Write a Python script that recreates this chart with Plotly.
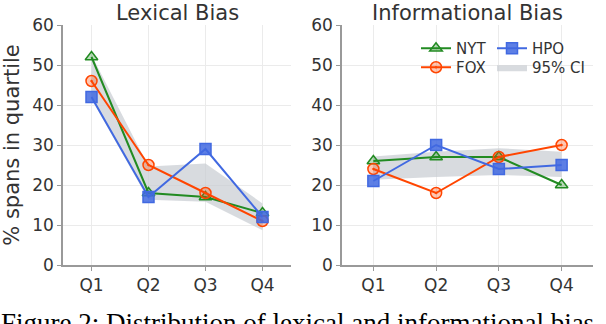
import plotly.graph_objects as go
from plotly.subplots import make_subplots

quartiles = ["Q1", "Q2", "Q3", "Q4"]

lex_nyt = [52, 18, 17, 13]
lex_fox = [46, 25, 18, 11]
lex_hpo = [42, 17, 29, 12]
lex_ci_low = [41.5, 16.3, 15.8, 8.7]
lex_ci_high = [52.5, 24.6, 25.4, 15.4]

inf_nyt = [26, 27, 27, 20]
inf_fox = [24, 18, 27, 30]
inf_hpo = [21, 30, 24, 25]
inf_ci_low = [21.3, 22.0, 22.5, 22.0]
inf_ci_high = [27.1, 28.3, 29.2, 28.3]

GREEN = "#228B22"
ORANGE = "#FF4500"
BLUE = "#4169E1"
BAND = "rgba(200,204,210,0.7)"
TXT = "#333333"

fig = make_subplots(rows=1, cols=2)

panels = [
    (1, lex_nyt, lex_fox, lex_hpo, lex_ci_low, lex_ci_high),
    (2, inf_nyt, inf_fox, inf_hpo, inf_ci_low, inf_ci_high),
]
for col, nyt, fox, hpo, lo, hi in panels:
    show = col == 2
    # band as a closed polygon: upper edge then lower edge reversed
    fig.add_trace(go.Scatter(x=quartiles + quartiles[::-1], y=hi + lo[::-1], mode="lines",
                             line=dict(width=0), fill="toself", fillcolor=BAND,
                             name="95% CI", hoverinfo="skip",
                             showlegend=show, legend="legend4"), row=1, col=col)
    fig.add_trace(go.Scatter(x=quartiles, y=nyt, mode="lines+markers", name="NYT",
                             line=dict(color=GREEN, width=2),
                             marker=dict(symbol="triangle-up", size=11,
                                         color="rgba(34,139,34,0.3)",
                                         line=dict(color=GREEN, width=1.5)),
                             showlegend=show, legend="legend"), row=1, col=col)
    fig.add_trace(go.Scatter(x=quartiles, y=fox, mode="lines+markers", name="FOX",
                             line=dict(color=ORANGE, width=2),
                             marker=dict(symbol="circle-dot", size=11,
                                         color="rgba(255,69,0,0.3)",
                                         line=dict(color=ORANGE, width=1.5)),
                             showlegend=show, legend="legend3"), row=1, col=col)
    fig.add_trace(go.Scatter(x=quartiles, y=hpo, mode="lines+markers", name="HPO",
                             line=dict(color=BLUE, width=2),
                             marker=dict(symbol="square", size=11,
                                         color="rgba(65,105,225,0.85)",
                                         line=dict(color=BLUE, width=1.5)),
                             showlegend=show, legend="legend2"), row=1, col=col)

ax = dict(showgrid=True, gridcolor="#ebebeb", gridwidth=1, showline=True,
          linecolor="#999999", linewidth=1.5, ticks="outside", ticklen=4,
          tickcolor="#999999", tickfont=dict(size=17, color=TXT), zeroline=False)

fig.update_xaxes(range=[-0.5, 3.5], **ax)
fig.update_yaxes(range=[0, 60], dtick=10, **ax)
fig.update_layout(
    xaxis=dict(domain=[63 / 606, 291 / 606]),
    xaxis2=dict(domain=[342 / 606, 593 / 606]),
    yaxis=dict(domain=[59 / 324, 299 / 324],
               title=dict(text="% spans in quartile", font=dict(size=21, color=TXT), standoff=8)),
    yaxis2=dict(domain=[59 / 324, 299 / 324]),
)

top = 299 / 324
fig.add_annotation(text="Lexical Bias", x=(63 + 291) / 2 / 606, y=top, xref="paper", yref="paper",
                   xanchor="center", yanchor="bottom", yshift=-2, showarrow=False,
                   font=dict(size=21, color=TXT))
fig.add_annotation(text="Informational Bias", x=(342 + 593) / 2 / 606, y=top, xref="paper",
                   yref="paper", xanchor="center", yanchor="bottom", yshift=-2, showarrow=False,
                   font=dict(size=21, color=TXT))
fig.add_annotation(text="Figure 2: Distribution of lexical and informational bias",
                   x=0, y=(324 - 306) / 324, xref="paper", yref="paper", xanchor="left",
                   yanchor="top", xshift=-1, showarrow=False,
                   font=dict(size=27, color="#000000", family="Liberation Serif"))

leg = dict(orientation="v", xanchor="left", yanchor="top",
           bgcolor="rgba(0,0,0,0)", font=dict(size=15, color=TXT), itemwidth=30)
fig.update_layout(
    width=606, height=324,
    margin=dict(l=0, r=0, t=0, b=0, autoexpand=False),
    paper_bgcolor="white", plot_bgcolor="white",
    font=dict(family="DejaVu Sans", color=TXT),
    legend=dict(x=416 / 606, y=1 - 32 / 324, **leg),
    legend2=dict(x=492 / 606, y=1 - 32 / 324, **leg),
    legend3=dict(x=416 / 606, y=1 - 51 / 324, **leg),
    legend4=dict(x=492 / 606, y=1 - 51 / 324, **leg),
)

fig.write_html("out.html", config={"displayModeBar": False},
               post_script="document.body.style.margin='0';")
